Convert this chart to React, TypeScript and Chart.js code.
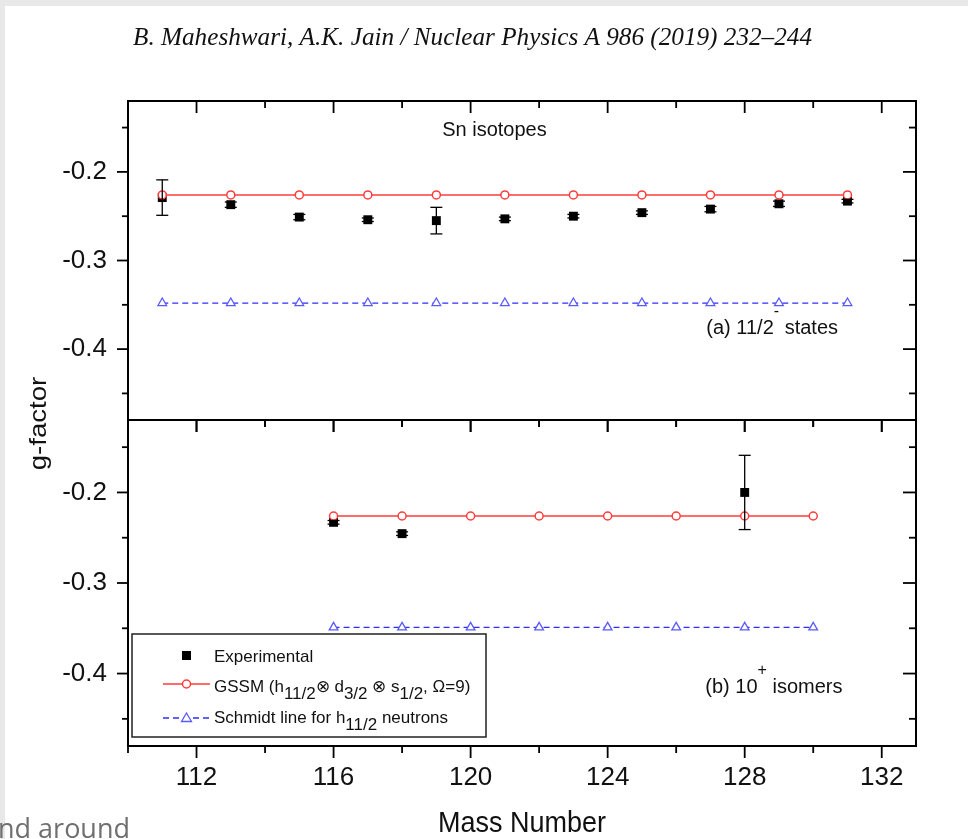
import { useEffect, useRef } from "react";
import { Chart, registerables } from "chart.js";

Chart.register(...registerables);

// ---------- data ----------
const massA = [111, 113, 115, 117, 119, 121, 123, 125, 127, 129, 131];
const expA = [-0.229, -0.237, -0.251, -0.254, -0.255, -0.253, -0.25, -0.246, -0.242, -0.236, -0.233];
const expAErr = [0.02, 0.003, 0.003, 0.002, 0.015, 0.002, 0.002, 0.002, 0.003, 0.003, 0.002];
const gssmA = [-0.226, -0.226, -0.226, -0.226, -0.226, -0.226, -0.226, -0.226, -0.226, -0.226, -0.226];
const schmidtA = [-0.348, -0.348, -0.348, -0.348, -0.348, -0.348, -0.348, -0.348, -0.348, -0.348, -0.348];

const massB = [116, 118, 120, 122, 124, 126, 128, 130];
const gssmB = [-0.226, -0.226, -0.226, -0.226, -0.226, -0.226, -0.226, -0.226];
const schmidtB = [-0.349, -0.349, -0.349, -0.349, -0.349, -0.349, -0.349, -0.349];
const expMassB = [116, 118, 128];
const expB = [-0.233, -0.2455, -0.2];
const expBErr = [0.002, 0.002, 0.041];

const xTickLabels = [112, 116, 120, 124, 128, 132];
const xMinorTicks = [110, 114, 118, 122, 126, 130];
const yTickLabels = [-0.4, -0.3, -0.2];
const yMinorTicks = [-0.45, -0.35, -0.25, -0.15];

const titleText = "B. Maheshwari, A.K. Jain / Nuclear Physics A 986 (2019) 232\u2013244";
const yTitle = "g-factor";
const xTitle = "Mass Number";
const panelALabel = [{ t: "(a) 11/2" }, { t: "-", sup: true }, { t: " states" }];
const panelBLabel = [{ t: "(b) 10" }, { t: "+", sup: true }, { t: " isomers" }];
const isotopeLabel = "Sn isotopes";
const legendExp = [{ t: "Experimental" }];
const legendGssm = [
  { t: "GSSM (h" }, { t: "11/2", sub: true }, { t: "\u2297 d" }, { t: "3/2", sub: true },
  { t: " \u2297 s" }, { t: "1/2", sub: true }, { t: ", \u03a9=9)" },
];
const legendSchmidt = [{ t: "Schmidt line for h" }, { t: "11/2", sub: true }, { t: " neutrons" }];

// ---------- styles ----------
const FONT = '"Liberation Sans", Arial, Helvetica, sans-serif';
const RED = "#ff3c3c";
const BLUE = "#2e2eff";
const BLUE_PT = "#5a5aff";

const pts = (xs: number[], ys: number[]) => xs.map((x, i) => ({ x, y: ys[i] }));

type Seg = { t: string; sub?: boolean; sup?: boolean };

function drawSegs(
  ctx: CanvasRenderingContext2D,
  segs: Seg[],
  x: number,
  y: number,
  size: number,
  subScale = 0.78
) {
  let cx = x;
  for (const s of segs) {
    const fs = s.sub ? Math.round(size * subScale) : s.sup ? Math.round(size * 0.78) : size;
    ctx.font = `${fs}px ${FONT}`;
    const dy = s.sub ? size * 0.42 : s.sup ? -size * 0.9 : 0;
    ctx.fillText(s.t, cx, y + dy);
    cx += ctx.measureText(s.t).width;
  }
}

function line(ctx: CanvasRenderingContext2D, x1: number, y1: number, x2: number, y2: number) {
  ctx.beginPath();
  ctx.moveTo(x1, y1);
  ctx.lineTo(x2, y2);
  ctx.stroke();
}

const panelPlugin = {
  id: "panelPlugin",
  beforeDraw(chart: any) {
    const ctx = chart.ctx as CanvasRenderingContext2D;
    ctx.save();
    ctx.fillStyle = "#ffffff";
    ctx.fillRect(0, 0, chart.width, chart.height);
    ctx.fillStyle = "#e8e8e8";
    ctx.fillRect(0, 0, chart.width, 6);
    ctx.fillRect(0, 0, 5, chart.height);
    ctx.restore();
  },
  afterDatasetsDraw(chart: any) {
    const ctx = chart.ctx as CanvasRenderingContext2D;
    const xs = chart.scales.x;
    ctx.save();
    ctx.strokeStyle = "#000";
    ctx.lineWidth = 1.3;
    const bars = (mass: number[], val: number[], err: number[], ys: any) => {
      mass.forEach((m, i) => {
        const px = xs.getPixelForValue(m);
        const y1 = ys.getPixelForValue(val[i] + err[i]);
        const y2 = ys.getPixelForValue(val[i] - err[i]);
        line(ctx, px, y1, px, y2);
        line(ctx, px - 6, y1, px + 6, y1);
        line(ctx, px - 6, y2, px + 6, y2);
      });
    };
    bars(massA, expA, expAErr, chart.scales.yA);
    bars(expMassB, expB, expBErr, chart.scales.yB);
    ctx.restore();
  },
  afterDraw(chart: any) {
    const ctx = chart.ctx as CanvasRenderingContext2D;
    const xs = chart.scales.x;
    const yA = chart.scales.yA;
    const yB = chart.scales.yB;
    const { left, right } = chart.chartArea;
    ctx.save();
    ctx.strokeStyle = "#000";
    ctx.fillStyle = "#000";

    // frames and ticks
    for (const ys of [yA, yB]) {
      const top = ys.top;
      const bottom = ys.bottom;
      ctx.lineWidth = 2;
      ctx.strokeRect(left, top, right - left, bottom - top);
      ctx.lineWidth = 1.8;
      for (const v of xTickLabels) {
        const px = xs.getPixelForValue(v);
        line(ctx, px, top, px, top + 12);
        line(ctx, px, bottom, px, bottom + 12);
      }
      for (const v of xMinorTicks) {
        const px = xs.getPixelForValue(v);
        line(ctx, px, top, px, top + 7);
        line(ctx, px, bottom, px, bottom + 7);
      }
      for (const v of yTickLabels) {
        const py = ys.getPixelForValue(v);
        line(ctx, left - 11, py, left, py);
        line(ctx, right - 13, py, right, py);
      }
      for (const v of yMinorTicks) {
        const py = ys.getPixelForValue(v);
        line(ctx, left - 6, py, left, py);
        line(ctx, right - 7, py, right, py);
      }
    }

    // title
    ctx.fillStyle = "#111";
    ctx.font = `italic 25px "Liberation Serif", "Times New Roman", serif`;
    ctx.textBaseline = "alphabetic";
    ctx.textAlign = "left";
    const tw = ctx.measureText(titleText).width;
    ctx.save();
    ctx.translate(133, 45);
    ctx.scale(679 / tw, 1);
    ctx.fillText(titleText, 0, 0);
    ctx.restore();

    ctx.fillStyle = "#111";
    // axis titles
    ctx.font = `27px ${FONT}`;
    ctx.textAlign = "center";
    ctx.save();
    ctx.translate(522, 832);
    ctx.scale(1, 1.1);
    ctx.fillText(xTitle, 0, 0);
    ctx.restore();

    ctx.save();
    ctx.font = `24px ${FONT}`;
    ctx.translate(46, (yA.top + yB.bottom) / 2);
    ctx.rotate(-Math.PI / 2);
    ctx.scale(1.15, 1);
    ctx.fillText(yTitle, 0, 0);
    ctx.restore();

    // annotations
    ctx.textAlign = "left";
    ctx.font = `20px ${FONT}`;
    ctx.fillText(isotopeLabel, xs.getPixelForValue(119.17), yA.getPixelForValue(-0.16));
    drawSegs(ctx, panelALabel, xs.getPixelForValue(126.88), yA.getPixelForValue(-0.383), 20);
    drawSegs(ctx, panelBLabel, xs.getPixelForValue(126.85), yB.getPixelForValue(-0.422), 20);

    // legend
    ctx.lineWidth = 1.5;
    ctx.strokeStyle = "#222";
    ctx.fillStyle = "#fff";
    ctx.fillRect(132, 634, 354, 103);
    ctx.strokeRect(132, 634, 354, 103);
    ctx.fillStyle = "#000";
    ctx.fillRect(182, 651, 9, 9);
    // gssm sample
    ctx.strokeStyle = RED;
    ctx.lineWidth = 1.5;
    line(ctx, 163, 684, 210, 684);
    ctx.fillStyle = "#fff";
    ctx.beginPath();
    ctx.arc(186.5, 684, 4, 0, Math.PI * 2);
    ctx.fill();
    ctx.stroke();
    // schmidt sample
    ctx.strokeStyle = BLUE;
    ctx.lineWidth = 1.3;
    ctx.setLineDash([6, 4]);
    line(ctx, 163, 718, 210, 718);
    ctx.setLineDash([]);
    ctx.strokeStyle = BLUE_PT;
    ctx.beginPath();
    ctx.moveTo(186.5, 713);
    ctx.lineTo(191.5, 721.5);
    ctx.lineTo(181.5, 721.5);
    ctx.closePath();
    ctx.fill();
    ctx.stroke();

    ctx.fillStyle = "#111";
    drawSegs(ctx, legendExp, 214, 662, 17);
    drawSegs(ctx, legendGssm, 214, 692, 17, 1.0);
    drawSegs(ctx, legendSchmidt, 214, 723, 17, 1.0);

    // page text behind
    ctx.fillStyle = "#6f6f6f";
    ctx.font = `27px "Open Sans", ${FONT}`;
    ctx.fillText("nd around", -2, 838);
    ctx.restore();
  },
};

export default function App() {
  const ref = useRef<HTMLCanvasElement>(null);
  useEffect(() => {
    if (!ref.current) return;
    const fixTicks = (vals: number[]) => (s: any) => {
      s.ticks = vals.map((v) => ({ value: v }));
    };
    const yScale = (weight: number, stackWeight: number) => ({
      type: "linear" as const,
      position: "left" as const,
      stack: "panels",
      stackWeight,
      weight,
      min: -0.48,
      max: -0.12,
      afterBuildTicks: fixTicks(yTickLabels),
      afterFit: (s: any) => {
        s.width = 128;
      },
      grid: { display: false, drawTicks: false },
      border: { display: false },
      ticks: {
        padding: 21,
        color: "#111",
        font: { family: FONT, size: 26 },
        callback: (v: any) => Number(v).toFixed(1),
      },
    });
    const circleDs = (label: string, xs: number[], ys: number[], axis: string) => ({
      label,
      data: pts(xs, ys),
      xAxisID: "x",
      yAxisID: axis,
      showLine: true,
      borderColor: RED,
      borderWidth: 1.5,
      pointStyle: "circle",
      pointRadius: 4,
      pointBackgroundColor: "#fff",
      pointBorderColor: RED,
      pointBorderWidth: 1.5,
      order: 0,
    });
    const expDs = (label: string, xs: number[], ys: number[], axis: string) => ({
      label,
      data: pts(xs, ys),
      xAxisID: "x",
      yAxisID: axis,
      showLine: false,
      pointStyle: "rect",
      pointRadius: 6.3,
      pointBackgroundColor: "#000",
      pointBorderColor: "#000",
      pointBorderWidth: 0,
      order: 1,
    });
    const triDs = (label: string, xs: number[], ys: number[], axis: string) => ({
      label,
      data: pts(xs, ys),
      xAxisID: "x",
      yAxisID: axis,
      showLine: true,
      borderColor: BLUE,
      borderWidth: 1.3,
      borderDash: [6, 4],
      pointStyle: "triangle",
      pointRadius: 5,
      pointBackgroundColor: "#fff",
      pointBorderColor: BLUE_PT,
      pointBorderWidth: 1.3,
      order: 2,
    });
    const chart = new Chart(ref.current, {
      type: "scatter",
      data: {
        datasets: [
          circleDs("GSSM a", massA, gssmA, "yA"),
          circleDs("GSSM b", massB, gssmB, "yB"),
          expDs("Experimental a", massA, expA, "yA"),
          expDs("Experimental b", expMassB, expB, "yB"),
          triDs("Schmidt a", massA, schmidtA, "yA"),
          triDs("Schmidt b", massB, schmidtB, "yB"),
        ],
      },
      options: {
        responsive: false,
        animation: false,
        devicePixelRatio: 1,
        events: [],
        layout: { padding: { top: 101, right: 52, left: 0, bottom: 0 } },
        plugins: { legend: { display: false }, tooltip: { enabled: false }, title: { display: false } },
        scales: {
          x: {
            type: "linear",
            position: "bottom",
            min: 110,
            max: 133,
            afterBuildTicks: fixTicks(xTickLabels),
            afterFit: (s: any) => {
              s.height = 93;
            },
            grid: { display: false, drawTicks: false },
            border: { display: false },
            ticks: {
              padding: 16,
              color: "#111",
              maxRotation: 0,
              autoSkip: false,
              font: { family: FONT, size: 26 },
              callback: (v: any) => String(v),
            },
          },
          yA: yScale(2, 319),
          yB: yScale(1, 326),
        },
      },
      plugins: [panelPlugin],
    } as any);
    return () => chart.destroy();
  }, []);
  return (
    <div style={{ position: "absolute", left: 0, top: 0, width: 968, height: 839, background: "#fff" }}>
      <canvas ref={ref} width={968} height={839} style={{ display: "block", width: 968, height: 839 }} />
    </div>
  );
}
